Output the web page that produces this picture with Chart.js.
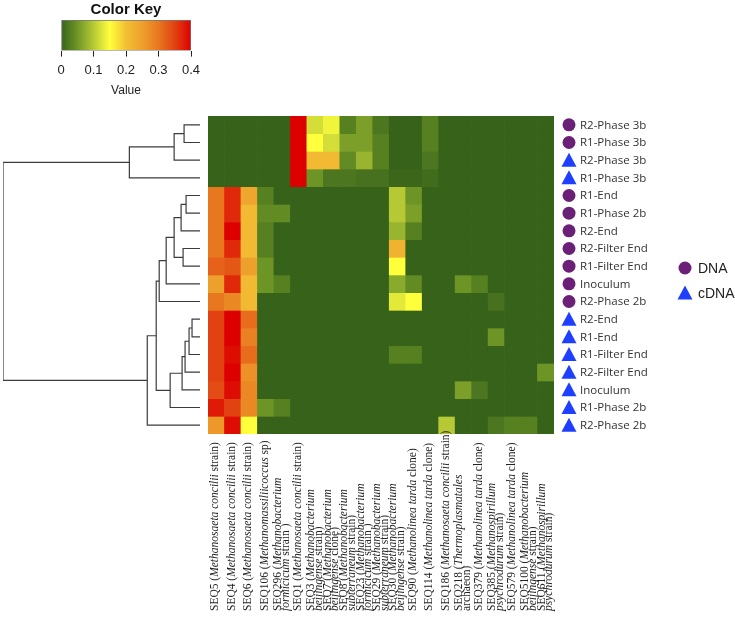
<!DOCTYPE html>
<html><head><meta charset="utf-8">
<script src="https://cdn.jsdelivr.net/npm/chart.js@4/dist/chart.umd.min.js"></script>
<style>
html,body{margin:0;padding:0;background:#fff}
body{width:735px;height:617px;overflow:hidden;position:relative}
canvas{position:absolute;left:0;top:0}
</style></head><body>
<canvas id="heat" width="735" height="617"></canvas>
<canvas id="dend" width="735" height="617"></canvas>
<canvas id="key" width="250" height="98"></canvas>
<script>
// ---------- DATA ----------
const colLabels = [
 "SEQ5 (*Methanosaeta concilii* strain)",
 "SEQ4 (*Methanosaeta concilii* strain)",
 "SEQ6 (*Methanosaeta concilii* strain)",
 "SEQ106 (*Methanomassiliicoccus* sp)",
 "SEQ296 (*Methanobacterium*|*formicicum* strain )",
 "SEQ1 (*Methanosaeta concilii* strain)",
 "SEQ3 (*Methanobacterium*|*beijingense* strain)",
 "SEQ7 (*Methanobacterium*|*beijingense* clone)",
 "SEQ8 (*Methanobacterium*|*subterraneum* strain)",
 "SEQ23 (*Methanobacterium*|*formicicum* strain )",
 "SEQ29 (*Methanobacterium*|*subterraneum* strain)",
 "SEQ30 (*Methanobacterium*|*beijingense* strain)",
 "SEQ90 (*Methanolinea tarda* clone)",
 "SEQ114 (*Methanolinea tarda* clone)",
 "SEQ186 (*Methanosaeta concilii* strain)",
 "SEQ218 (*Thermoplasmatales*|archaeon)",
 "SEQ379 (*Methanolinea tarda* clone)",
 "SEQ385 (*Methanospirillum*|*psychrodurum* strain)",
 "SEQ579 (*Methanolinea tarda* clone)",
 "SEQ5100 (*Methanobacterium*|*beijingense* strain)",
 "SEQ611 (*Methanospirillum*|*psychrodurum* strain)"
];
const rowLabels = ["R2-Phase 3b","R1-Phase 3b","R2-Phase 3b","R1-Phase 3b","R1-End","R1-Phase 2b","R2-End","R2-Filter End","R1-Filter End","Inoculum","R2-Phase 2b","R2-End","R1-End","R1-Filter End","R2-Filter End","Inoculum","R1-Phase 2b","R2-Phase 2b"];
const rowTypes = ["DNA","DNA","cDNA","cDNA","DNA","DNA","DNA","DNA","DNA","DNA","DNA","cDNA","cDNA","cDNA","cDNA","cDNA","cDNA","cDNA"];
// relative abundance, rows x columns
const values = [
 [0,0,0,0,0,0.40,0.12,0.14,0.03,0.06,0.02,0,0,0.03,0,0,0,0,0,0,0],
 [0,0,0,0,0,0.40,0.15,0.12,0.06,0.06,0.03,0,0,0.03,0,0,0,0,0,0,0],
 [0,0,0,0,0,0.40,0.21,0.21,0.04,0.08,0.03,0,0,0.02,0,0,0,0,0,0,0],
 [0,0,0,0,0,0.40,0.05,0.02,0.02,0.015,0.015,0.005,0.005,0.01,0,0,0,0,0,0,0],
 [0.30,0.37,0.24,0.03,0,0,0,0,0,0,0,0.10,0.05,0,0,0,0,0,0,0,0],
 [0.30,0.37,0.21,0.04,0.04,0,0,0,0,0,0,0.10,0.06,0,0,0,0,0,0,0,0],
 [0.30,0.40,0.21,0.03,0,0,0,0,0,0,0,0.08,0.03,0,0,0,0,0,0,0,0],
 [0.30,0.37,0.21,0.03,0,0,0,0,0,0,0,0.22,0,0,0,0,0,0,0,0,0],
 [0.32,0.33,0.25,0.05,0,0,0,0,0,0,0,0.15,0,0,0,0,0,0,0,0,0],
 [0.25,0.37,0.21,0.05,0.03,0,0,0,0,0,0,0.07,0.04,0,0,0.05,0.03,0,0,0,0],
 [0.30,0.28,0.21,0,0,0,0,0,0,0,0,0.13,0.15,0,0,0,0,0.015,0,0,0],
 [0.35,0.40,0.31,0,0,0,0,0,0,0,0,0,0,0,0,0,0,0,0,0,0],
 [0.35,0.40,0.29,0,0,0,0,0,0,0,0,0,0,0,0,0,0,0.05,0,0,0],
 [0.35,0.39,0.31,0,0,0,0,0,0,0,0,0.03,0.03,0,0,0,0,0,0,0,0],
 [0.35,0.40,0.27,0,0,0,0,0,0,0,0,0,0,0,0,0,0,0,0,0,0.05],
 [0.34,0.39,0.28,0,0,0,0,0,0,0,0,0,0,0,0,0.06,0.02,0,0,0,0],
 [0.38,0.35,0.28,0.05,0.03,0,0,0,0,0,0,0,0,0,0,0,0,0,0,0,0],
 [0.26,0.39,0.15,0,0,0,0,0,0,0,0,0,0,0,0.10,0,0,0.02,0.03,0.03,0]
];
// dendrogram merges (hclust style): [a, b, height]; negative = leaf row (1-based)
const dendMerge = [
 [-1,-2,16],[1,-3,26],[2,-4,71],
 [-5,-6,14],[4,-7,19],[-8,-9,17],[5,6,26],[7,-10,34],[8,-11,41],
 [-12,-13,8],[10,-14,11],[11,-15,15],[12,-16,18],[13,-17,30],
 [9,14,44],[15,-18,53],[3,16,198]
];
const keyTicks = ["0","0.1","0.2","0.3","0.4"];
const colorStops = [[0,'#36621a'],[0.05,'#6d9526'],[0.1,'#b6c935'],[0.15,'#ffff3c'],[0.2,'#f2c034'],[0.25,'#eea02c'],[0.3,'#e8781f'],[0.35,'#e24212'],[0.4,'#dd0000']];

// ---------- helpers ----------
function hex(c){return [parseInt(c.slice(1,3),16),parseInt(c.slice(3,5),16),parseInt(c.slice(5,7),16)];}
function colorFor(v){
  v=Math.max(0,Math.min(0.4,v));
  for(let i=1;i<colorStops.length;i++){
    const [v1,c1]=colorStops[i-1],[v2,c2]=colorStops[i];
    if(v<=v2){const t=(v-v1)/(v2-v1);const a=hex(c1),b=hex(c2);
      return 'rgb('+a.map((x,k)=>Math.round(x+(b[k]-x)*t)).join(',')+')';}
  }
  return colorStops[colorStops.length-1][1];
}
const PURPLE='#6b2077', BLUE='#1f3fff';
function marker(ctx,type,x,y){
  ctx.beginPath();
  if(type==='DNA'){ctx.fillStyle=PURPLE;ctx.arc(x,y,6.5,0,Math.PI*2);}
  else{ctx.fillStyle=BLUE;ctx.moveTo(x,y-7.5);ctx.lineTo(x-7.5,y+6.5);ctx.lineTo(x+7.5,y+6.5);ctx.closePath();}
  ctx.fill();
}

const labelsPlugin={id:'heatLabels',afterDraw(chart){
  const ctx=chart.ctx, xs=chart.scales.x, ys=chart.scales.y;
  ctx.save();
  // row markers and labels
  ctx.font='11.5px "Open Sans"';ctx.textBaseline='middle';ctx.textAlign='left';
  rowLabels.forEach((lab,r)=>{
    const y=ys.getPixelForValue(r+0.5);
    marker(ctx,rowTypes[r],569,y);
    ctx.fillStyle='#333';ctx.fillText(lab,580,y+0.5);
  });
  // legend
  marker(ctx,'DNA',685,268);marker(ctx,'cDNA',685,293);
  ctx.font='14px Arial';ctx.fillStyle='#222';
  ctx.fillText('DNA',698,269);ctx.fillText('cDNA',698,294);
  // column labels
  colLabels.forEach((lab,c)=>{
    const x=xs.getPixelForValue(c);
    const lines=lab.split('|');
    const offs=lines.length===1?[-1]:[-4,3.5];
    lines.forEach((line,li)=>{
      ctx.save();ctx.translate(x+offs[li],611);ctx.rotate(-Math.PI/2);
      ctx.textAlign='left';ctx.textBaseline='middle';ctx.fillStyle='#222';
      let px=0;
      line.split('*').forEach((seg,si)=>{
        if(!seg)return;
        ctx.font=(si%2?'italic ':'')+'11.5px "Liberation Serif"';
        ctx.fillText(seg,px,0);px+=ctx.measureText(seg).width;
      });
      ctx.restore();
    });
  });
  ctx.restore();
}};

// ---------- heatmap ----------
new Chart(document.getElementById('heat'),{
  type:'bar',
  data:{labels:colLabels.map((_,i)=>i),
    datasets:values.map(row=>({data:row.map(()=>1),backgroundColor:row.map(colorFor),stack:'s',
      barPercentage:1,categoryPercentage:1,borderWidth:0}))},
  options:{responsive:false,animation:false,events:[],
    layout:{padding:{left:208,right:181,top:116,bottom:183}},
    scales:{x:{stacked:true,display:false},y:{stacked:true,display:false,min:0,max:18,reverse:true}},
    plugins:{legend:{display:false},tooltip:{enabled:false}}},
  plugins:[labelsPlugin]
});

// ---------- dendrogram ----------
const nodes=[];
function nodePos(id){ if(id<0) return {y:-id-1+0.5,h:0}; return nodes[id-1]; }
const dendSets=[];
dendMerge.forEach(([a,b,h])=>{
  const A=nodePos(a),B=nodePos(b);
  nodes.push({y:(A.y+B.y)/2,h:h});
  dendSets.push({data:[{x:A.h,y:A.y},{x:h,y:A.y},{x:h,y:B.y},{x:B.h,y:B.y}],
    showLine:true,pointRadius:0,borderColor:'#3c3c3c',borderWidth:1.2,tension:0,fill:false});
});
new Chart(document.getElementById('dend'),{
  type:'scatter',data:{datasets:dendSets},
  options:{responsive:false,animation:false,events:[],
    layout:{padding:{left:3,right:535,top:116,bottom:183}},
    scales:{x:{type:'linear',min:0,max:198,reverse:true,display:false},
            y:{type:'linear',min:0,max:18,reverse:true,display:false}},
    plugins:{legend:{display:false},tooltip:{enabled:false}}}
});

// ---------- color key ----------
new Chart(document.getElementById('key'),{
  type:'bar',
  data:{labels:['k'],datasets:[{data:[[0,0.4]],
    backgroundColor:(ctx)=>{const ca=ctx.chart.chartArea;if(!ca)return '#888';
      const g=ctx.chart.ctx.createLinearGradient(ca.left,0,ca.right,0);
      colorStops.forEach(([v,c])=>g.addColorStop(v/0.4,c));return g;},
    borderColor:'#777',borderWidth:1,borderSkipped:false,barPercentage:1,categoryPercentage:1}]},
  options:{indexAxis:'y',responsive:false,animation:false,events:[],
    layout:{padding:{left:61,right:59,top:0,bottom:0}},
    scales:{
      x:{type:'linear',min:0,max:0.4,
        ticks:{stepSize:0.1,color:'#222',font:{size:13,family:'Arial',lineHeight:1},padding:7,maxRotation:0,
          callback:(v,i)=>keyTicks[i]},
        grid:{drawOnChartArea:false,drawTicks:true,tickLength:6,color:'#222'},
        border:{display:false},
        title:{display:true,text:'Value',color:'#222',font:{size:12,family:'Arial'},padding:{top:0,bottom:0}}},
      y:{display:false}},
    plugins:{legend:{display:false},tooltip:{enabled:false},
      title:{display:true,text:'Color Key',color:'#111',font:{size:15,weight:'bold',family:'Arial'},padding:{top:1,bottom:1}}}}
});
</script>
</body></html>
